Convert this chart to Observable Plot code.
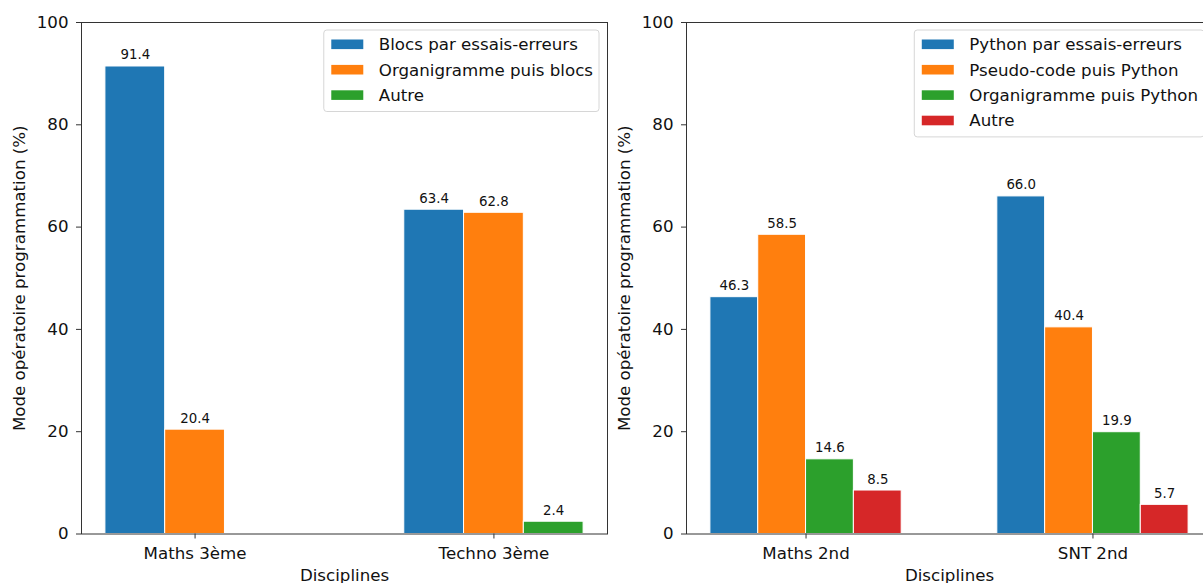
<!DOCTYPE html>
<html>
<head>
<meta charset="utf-8">
<script src="https://cdn.jsdelivr.net/npm/d3@7"></script>
<script src="https://cdn.jsdelivr.net/npm/@observablehq/plot@0.6"></script>
<style>
  html, body { margin: 0; padding: 0; background: white; overflow: hidden; }
  #wrap { position: relative; width: 1203px; height: 583px; overflow: hidden; }
  #wrap > svg { position: absolute; top: 0; }
</style>
</head>
<body>
<div id="wrap"></div>
<script>
// ---- Data ----
const leftCategories = ["Maths 3ème", "Techno 3ème"];
const leftSeries = ["Blocs par essais-erreurs", "Organigramme puis blocs", "Autre"];
const leftBlocs = [91.4, 63.4];
const leftOrganigramme = [20.4, 62.8];
const leftAutre = [null, 2.4];

const rightCategories = ["Maths 2nd", "SNT 2nd"];
const rightSeries = ["Python par essais-erreurs", "Pseudo-code puis Python", "Organigramme puis Python", "Autre"];
const rightPython = [46.3, 66.0];
const rightPseudo = [58.5, 40.4];
const rightOrganigramme = [14.6, 19.9];
const rightAutre = [8.5, 5.7];

const yTicks = [0, 20, 40, 60, 80, 100];
const yLabel = "Mode opératoire programmation (%)";
const xLabel = "Disciplines";
const palette = ["#1f77b4", "#ff7f0e", "#2ca02c", "#d62728"];

const FS = 16.67, FS_SMALL = 13.33;

// ---- Chart builder ----
function makeChart(cats, series, values, barWidth, left) {
  const n = series.length;
  const rows = [];
  series.forEach((s, j) => cats.forEach((c, i) => {
    const v = values[j][i];
    if (v == null) return;
    const off = (j - (n - 1) / 2) * barWidth;
    rows.push({series: s, cat: c, value: v, xc: i + off, x1: i + off - barWidth / 2, x2: i + off + barWidth / 2});
  }));
  const lo = -n * barWidth / 2, hi = cats.length - 1 + n * barWidth / 2;
  const m = (hi - lo) * 0.05;
  const W = 621, H = 583, ML = 81, MR = 14, MT = 22, MB = 49.5;
  const chart = Plot.plot({
    width: W, height: H,
    marginLeft: ML, marginRight: MR, marginTop: MT, marginBottom: MB,
    style: {fontFamily: "DejaVu Sans", fontSize: FS + "px", color: "#111", background: "transparent", overflow: "visible"},
    x: {type: "linear", domain: [lo - m, hi + m]},
    y: {domain: [0, 100]},
    color: {domain: series, range: palette.slice(0, n)},
    marks: [
      Plot.rectY(rows, {x1: "x1", x2: "x2", y: "value", fill: "series", stroke: "white", strokeWidth: 1}),
      Plot.text(rows, {x: "xc", y: "value", text: d => d.value.toFixed(1), lineAnchor: "bottom", dy: -7, fontSize: FS_SMALL, fill: "#111"}),
      Plot.axisY({ticks: yTicks, tickSize: 5, tickPadding: 8, label: null, stroke: "#333"}),
      Plot.axisX({ticks: d3.range(cats.length), tickFormat: i => cats[i], tickSize: 5, tickPadding: 8, label: null, stroke: "#333"}),
      Plot.frame({stroke: "#333", strokeWidth: 1}),
      Plot.text([yLabel], {frameAnchor: "left", textAnchor: "middle", lineAnchor: "middle", rotate: -90, dx: -62, fontSize: FS, fill: "#111"}),
      Plot.text([xLabel], {frameAnchor: "bottom", textAnchor: "middle", lineAnchor: "top", dy: 35.5, fontSize: FS, fill: "#111"})
    ]
  });
  chart.style.left = left + "px";
  document.getElementById("wrap").appendChild(chart);

  // Legend (upper right of the axes)
  const svg = d3.select(chart);
  const g = svg.append("g").attr("font-family", "DejaVu Sans").attr("font-size", FS).attr("text-anchor", "start");
  const frameRight = W - MR;
  const rowY0 = 44.3, rowStep = 25.4;
  const box = g.append("rect");
  const texts = series.map((s, j) => g.append("text")
    .attr("y", rowY0 + j * rowStep).attr("dy", "0.35em").attr("fill", "#111")
    .attr("text-anchor", "start").text(s));
  const maxW = d3.max(texts, t => t.node().getComputedTextLength());
  const boxRight = frameRight - 8;
  const boxLeft = boxRight - (7.5 + 32 + 15.5 + maxW + 6);
  box.attr("x", boxLeft).attr("y", 30).attr("width", boxRight - boxLeft)
     .attr("height", rowY0 + (n - 1) * rowStep + 16.4 - 30)
     .attr("rx", 3).attr("fill", "white").attr("fill-opacity", 0.8)
     .attr("stroke", "#d6d6d6").attr("stroke-width", 1);
  texts.forEach(t => t.attr("x", boxLeft + 7.5 + 32 + 15.5).raise());
  series.forEach((s, j) => {
    g.append("rect").attr("x", boxLeft + 7.5).attr("y", rowY0 + j * rowStep - 4.8)
      .attr("width", 32).attr("height", 9.6).attr("fill", palette[j]);
  });
}

makeChart(leftCategories, leftSeries, [leftBlocs, leftOrganigramme, leftAutre], 0.2, 0);
makeChart(rightCategories, rightSeries, [rightPython, rightPseudo, rightOrganigramme, rightAutre], 1 / 6, 605);
</script>
</body>
</html>
